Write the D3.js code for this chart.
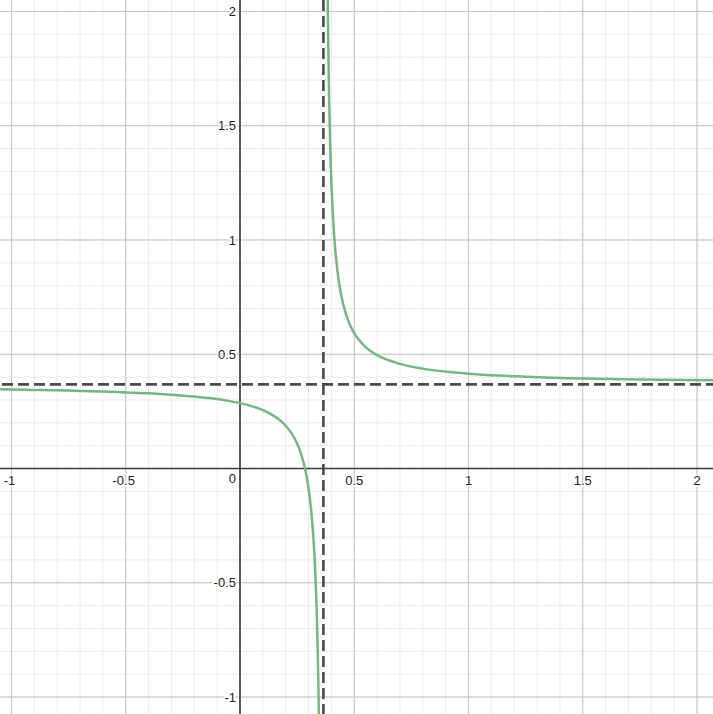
<!DOCTYPE html>
<html>
<head>
<meta charset="utf-8">
<script src="https://cdn.jsdelivr.net/npm/d3@7"></script>
<style>
  html, body { margin: 0; padding: 0; background: #fff; }
  svg { display: block; }
  .lbl { font-family: "Liberation Sans", Arial, sans-serif; font-size: 13px; fill: #222;
         stroke: #fff; stroke-width: 3px; paint-order: stroke; stroke-linejoin: round; }
</style>
</head>
<body>
<script>
// graph of a hyperbola with its two asymptotes
const width = 713, height = 714;

const xDomain = [-1.0503, 2.070];
const yDomain = [-1.0744, 2.0503];

// points, left branch
const leftX = [-1.06, -0.9, -0.75, -0.6, -0.5, -0.4, -0.3, -0.2, -0.1, -0.05, 0, 0.05, 0.1, 0.15, 0.175, 0.2,
               0.225, 0.25, 0.265, 0.28, 0.29, 0.3, 0.31, 0.32, 0.33, 0.335, 0.34, 0.345, 0.347];
const leftY = [0.347, 0.344, 0.341, 0.337, 0.333, 0.329, 0.323, 0.315, 0.304, 0.296, 0.286, 0.273, 0.255, 0.229, 0.211, 0.187,
               0.155, 0.109, 0.071, 0.019, -0.027, -0.087, -0.168, -0.284, -0.465, -0.600, -0.786, -1.061, -1.211];

// right branch
const rightX = [0.382, 0.385, 0.39, 0.395, 0.4, 0.41, 0.42, 0.435, 0.45, 0.475, 0.5, 0.55, 0.6, 0.7, 0.8, 0.9,
                1, 1.25, 1.5, 1.75, 2.07];
const rightY = [2.243, 1.947, 1.618, 1.402, 1.250, 1.050, 0.924, 0.803, 0.725, 0.643, 0.592, 0.531, 0.496, 0.458, 0.437, 0.424,
                0.415, 0.402, 0.394, 0.390, 0.386];

// asymptotes
const asymptoteX = 0.365;
const asymptoteY = 0.368;

// tick labels
const xTicks = [-1, -0.5, 0.5, 1, 1.5, 2];
const yTicks = [-1, -0.5, 0.5, 1, 1.5, 2];

const x = d3.scaleLinear().domain(xDomain).range([0, width]);
const y = d3.scaleLinear().domain(yDomain).range([height, 0]);

const svg = d3.select("body").append("svg")
    .attr("width", width)
    .attr("height", height);

svg.append("defs").append("clipPath").attr("id", "clip")
  .append("rect").attr("width", width).attr("height", height);

// grid: minor every 0.1, major every 0.5
const minor = d3.range(-11, 22).map(i => i / 10);
const major = d3.range(-2, 5).map(i => i / 2);

const grid = svg.append("g");
grid.selectAll(".mx").data(minor).enter().append("line")
    .attr("x1", d => x(d)).attr("x2", d => x(d))
    .attr("y1", 0).attr("y2", height)
    .attr("stroke", "#ebebeb").attr("stroke-width", 1);
grid.selectAll(".my").data(minor).enter().append("line")
    .attr("y1", d => y(d)).attr("y2", d => y(d))
    .attr("x1", 0).attr("x2", width)
    .attr("stroke", "#ebebeb").attr("stroke-width", 1);
grid.selectAll(".Mx").data(major).enter().append("line")
    .attr("x1", d => x(d)).attr("x2", d => x(d))
    .attr("y1", 0).attr("y2", height)
    .attr("stroke", "#c4c4c4").attr("stroke-width", 1);
grid.selectAll(".My").data(major).enter().append("line")
    .attr("y1", d => y(d)).attr("y2", d => y(d))
    .attr("x1", 0).attr("x2", width)
    .attr("stroke", "#c4c4c4").attr("stroke-width", 1);

// axes
svg.append("line")
    .attr("x1", 0).attr("x2", width)
    .attr("y1", y(0)).attr("y2", y(0))
    .attr("stroke", "#3a3a3a").attr("stroke-width", 1.6);
svg.append("line")
    .attr("x1", x(0)).attr("x2", x(0))
    .attr("y1", 0).attr("y2", height)
    .attr("stroke", "#3a3a3a").attr("stroke-width", 1.6);

// curve
const line = d3.line()
    .x(d => x(d[0]))
    .y(d => y(d[1]))
    .curve(d3.curveMonotoneX);

const plot = svg.append("g").attr("clip-path", "url(#clip)");
[d3.zip(leftX, leftY), d3.zip(rightX, rightY)].forEach(pts => {
  plot.append("path")
      .attr("d", line(pts))
      .attr("fill", "none")
      .attr("stroke", "#74b783")
      .attr("stroke-width", 2.5);
});

// dashed asymptotes
plot.append("line")
    .attr("x1", 2).attr("x2", width)
    .attr("y1", y(asymptoteY)).attr("y2", y(asymptoteY))
    .attr("stroke", "#4a4a4a").attr("stroke-width", 2.6)
    .attr("stroke-dasharray", "11 5");
plot.append("line")
    .attr("x1", x(asymptoteX)).attr("x2", x(asymptoteX))
    .attr("y1", 0).attr("y2", height)
    .attr("stroke", "#4a4a4a").attr("stroke-width", 2.6)
    .attr("stroke-dasharray", "11 5");

// tick labels
svg.append("g").selectAll("text").data(xTicks).enter().append("text")
    .attr("class", "lbl")
    .attr("x", d => x(d) - (d < 0 ? 2 : 0))
    .attr("y", y(0) + 16.5)
    .attr("text-anchor", "middle")
    .text(d => d);

svg.append("g").selectAll("text").data(yTicks).enter().append("text")
    .attr("class", "lbl")
    .attr("x", x(0) - 4)
    .attr("y", d => y(d))
    .attr("dy", "0.36em")
    .attr("text-anchor", "end")
    .text(d => d);

svg.append("text")
    .attr("class", "lbl")
    .attr("x", x(0) - 4)
    .attr("y", y(0) + 15)
    .attr("text-anchor", "end")
    .text(0);
</script>
</body>
</html>
